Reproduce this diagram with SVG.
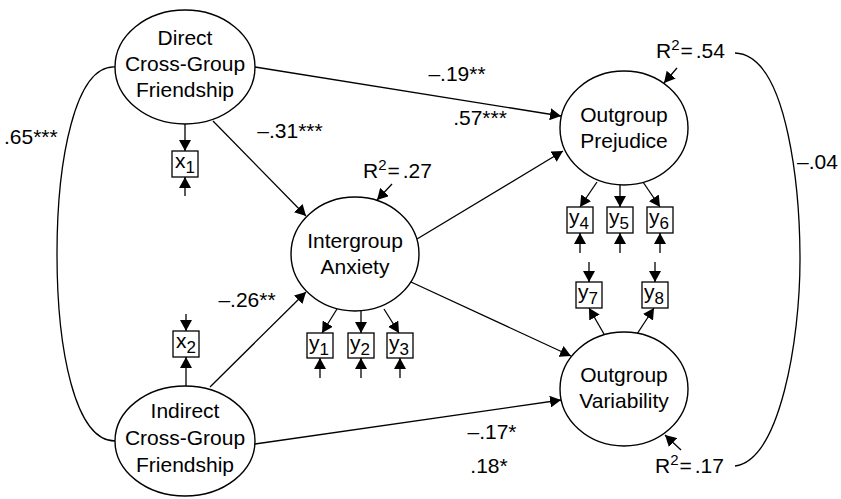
<svg xmlns="http://www.w3.org/2000/svg" width="841" height="499" viewBox="0 0 841 499">
  <style>
    .lat { fill: #fff; stroke: #000; stroke-width: 1.4; }
    .ind { fill: #fff; stroke: #000; stroke-width: 1.3; }
    .ln { fill: none; stroke: #000; stroke-width: 1.3; }
    .arr { fill: none; stroke: #000; stroke-width: 1.3; marker-end: url(#ah); }
    text { font-family: "Liberation Sans", Arial, Helvetica, sans-serif; font-size: 21px; fill: #000; }
    .c { text-anchor: middle; }
    .sup { font-size: 15px; }
    .sub { font-size: 17px; }
  </style>
  <defs>
    <marker id="ah" markerUnits="userSpaceOnUse" markerWidth="12" markerHeight="12" refX="11" refY="6" orient="auto">
      <path d="M0,0 L11,6 L0,12 z" fill="#000"/>
    </marker>
  </defs>
  <rect width="841" height="499" fill="#fff"/>

  <!-- paths, loadings, residual arrows and covariances -->
  <g id="connectors">
    <!-- covariance between the two friendship factors -->
    <path class="ln" d="M115,67 C75,65 57,160 57,254 C57,350 75,441 115,441"/>
    <!-- covariance between the two outcome disturbances -->
    <path class="ln" d="M735,53 C790,55 800,200 800,260 C800,340 780,460 735,466"/>

    <!-- structural paths -->
    <line class="arr" x1="255" y1="67" x2="561" y2="116"/>
    <line class="arr" x1="213" y1="121" x2="306" y2="216"/>
    <line class="arr" x1="417" y1="239" x2="563" y2="151"/>
    <line class="arr" x1="411" y1="282" x2="571" y2="356"/>
    <line class="arr" x1="210" y1="387" x2="306" y2="292"/>
    <line class="arr" x1="255" y1="444" x2="561" y2="400"/>

    <!-- loadings -->
    <line class="arr" x1="185" y1="124" x2="185" y2="151"/>
    <line class="arr" x1="186" y1="386" x2="186" y2="357"/>
    <line class="arr" x1="337" y1="309" x2="322" y2="333"/>
    <line class="arr" x1="361" y1="311" x2="361" y2="333"/>
    <line class="arr" x1="384" y1="309" x2="399" y2="333"/>
    <line class="arr" x1="597" y1="182" x2="580" y2="207"/>
    <line class="arr" x1="620" y1="185" x2="620" y2="207"/>
    <line class="arr" x1="643" y1="182" x2="660" y2="207"/>
    <line class="arr" x1="604" y1="334" x2="589" y2="308"/>
    <line class="arr" x1="637" y1="334" x2="654" y2="308"/>

    <!-- measurement errors -->
    <line class="arr" x1="185" y1="196" x2="185" y2="177"/>
    <line class="arr" x1="186" y1="314" x2="186" y2="331"/>
    <line class="arr" x1="320" y1="378" x2="320" y2="358"/>
    <line class="arr" x1="361" y1="378" x2="361" y2="358"/>
    <line class="arr" x1="400" y1="378" x2="400" y2="358"/>
    <line class="arr" x1="580" y1="253" x2="580" y2="233"/>
    <line class="arr" x1="620" y1="253" x2="620" y2="233"/>
    <line class="arr" x1="660" y1="253" x2="660" y2="233"/>
    <line class="arr" x1="589" y1="262" x2="589" y2="282"/>
    <line class="arr" x1="655" y1="262" x2="655" y2="282"/>

    <!-- disturbances -->
    <line class="arr" x1="392" y1="184" x2="377" y2="200"/>
    <line class="arr" x1="677" y1="68" x2="664" y2="83"/>
    <line class="arr" x1="681" y1="450" x2="665" y2="435"/>
  </g>

  <!-- coefficient labels -->
  <g id="labels">
    <text class="c" x="457" y="81">–.19**</text>
    <text class="c" x="290" y="138">–.31***</text>
    <text class="c" x="480" y="125">.57***</text>
    <text class="c" x="247" y="307">–.26**</text>
    <text class="c" x="492" y="439">–.17*</text>
    <text class="c" x="489" y="473">.18*</text>
    <text x="797" y="169">–.04</text>
    <text x="4" y="144">.65***</text>
    <text x="363" y="178">R<tspan class="sup" dy="-8">2</tspan><tspan dy="8" dx="1">=</tspan><tspan dx="3">.27</tspan></text>
    <text x="656" y="58">R<tspan class="sup" dy="-8">2</tspan><tspan dy="8" dx="1">=</tspan><tspan dx="3">.54</tspan></text>
    <text x="655" y="473">R<tspan class="sup" dy="-8">2</tspan><tspan dy="8" dx="1">=</tspan><tspan dx="3">.17</tspan></text>
  </g>

  <!-- latent factors -->
  <g id="direct">
    <ellipse class="lat" cx="185" cy="67" rx="70" ry="57"/>
    <text class="c" x="185" y="45">Direct</text>
    <text class="c" x="185" y="71">Cross-Group</text>
    <text class="c" x="185" y="97">Friendship</text>
  </g>
  <g id="indirect">
    <ellipse class="lat" cx="185" cy="441" rx="70" ry="55"/>
    <text class="c" x="185" y="418">Indirect</text>
    <text class="c" x="185" y="445">Cross-Group</text>
    <text class="c" x="185" y="472">Friendship</text>
  </g>
  <g id="anxiety">
    <ellipse class="lat" cx="355" cy="254" rx="64" ry="57"/>
    <text class="c" x="355" y="248">Intergroup</text>
    <text class="c" x="355" y="274">Anxiety</text>
  </g>
  <g id="prejudice">
    <ellipse class="lat" cx="624" cy="128" rx="64" ry="57"/>
    <text class="c" x="624" y="122">Outgroup</text>
    <text class="c" x="624" y="148">Prejudice</text>
  </g>
  <g id="variability">
    <ellipse class="lat" cx="624" cy="389" rx="64" ry="57"/>
    <text class="c" x="624" y="382">Outgroup</text>
    <text class="c" x="624" y="408">Variability</text>
  </g>

  <!-- observed indicators -->
  <g id="x1">
    <rect class="ind" x="172" y="151" width="26" height="26"/>
    <text x="175" y="168">x<tspan class="sub" dy="5">1</tspan></text>
  </g>
  <g id="x2">
    <rect class="ind" x="173" y="331" width="26" height="26"/>
    <text x="176" y="348">x<tspan class="sub" dy="5">2</tspan></text>
  </g>
  <g id="y1">
    <rect class="ind" x="307" y="333" width="26" height="25"/>
    <text x="309" y="350">y<tspan class="sub" dy="5">1</tspan></text>
  </g>
  <g id="y2">
    <rect class="ind" x="348" y="333" width="26" height="25"/>
    <text x="350" y="350">y<tspan class="sub" dy="5">2</tspan></text>
  </g>
  <g id="y3">
    <rect class="ind" x="387" y="333" width="26" height="25"/>
    <text x="389" y="350">y<tspan class="sub" dy="5">3</tspan></text>
  </g>
  <g id="y4">
    <rect class="ind" x="567" y="207" width="26" height="26"/>
    <text x="569" y="224">y<tspan class="sub" dy="5">4</tspan></text>
  </g>
  <g id="y5">
    <rect class="ind" x="607" y="207" width="26" height="26"/>
    <text x="609" y="224">y<tspan class="sub" dy="5">5</tspan></text>
  </g>
  <g id="y6">
    <rect class="ind" x="647" y="207" width="26" height="26"/>
    <text x="649" y="224">y<tspan class="sub" dy="5">6</tspan></text>
  </g>
  <g id="y7">
    <rect class="ind" x="576" y="282" width="26" height="26"/>
    <text x="578" y="299">y<tspan class="sub" dy="5">7</tspan></text>
  </g>
  <g id="y8">
    <rect class="ind" x="642" y="282" width="26" height="26"/>
    <text x="644" y="299">y<tspan class="sub" dy="5">8</tspan></text>
  </g>
</svg>
